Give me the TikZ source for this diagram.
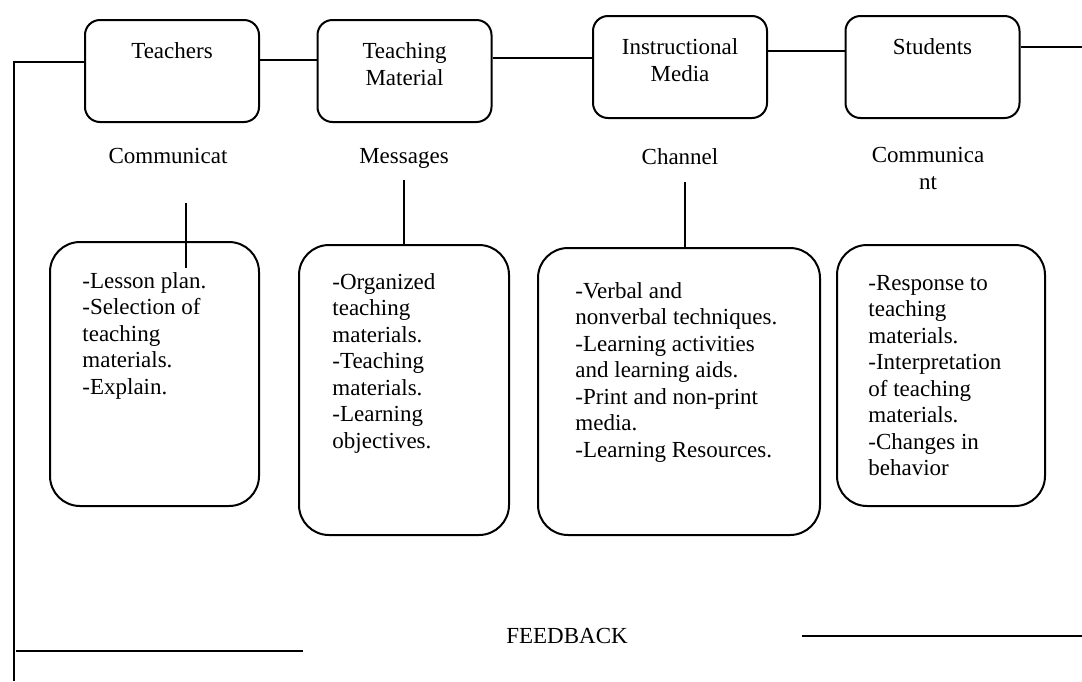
\documentclass[tikz,border=0pt]{standalone}
\usepackage{fontspec}
\setmainfont{Liberation Serif}
\usetikzlibrary{positioning}
\tikzset{role/.style={shape=rectangle, draw, rounded corners=7.5pt, line width=1pt,
    minimum width=87pt, minimum height=51pt}}
\tikzset{duty/.style={shape=rectangle, draw, rounded corners=15pt, line width=1pt}}
\tikzset{txt/.style={font=\fontsize{11.5}{13.5}\selectfont, inner sep=0pt, align=center, anchor=north}}
\tikzset{items/.style={font=\fontsize{11.5}{13.25}\selectfont, inner sep=0pt, align=left, anchor=north west}}
\tikzset{link/.style={line width=1pt}}

\begin{document}
\begin{tikzpicture}[x=0.5pt, y=-0.5pt]
  \useasboundingbox (0,0) rectangle (1082,681);

    %%%% Top row
    \node[role](teach) at (172,71)   {};
    \node[role](tmat)  at (404.5,71) {};
    \node[role](imed)  at (680,67)   {};
    \node[role](stud)  at (932.5,67) {};

    \node[txt](teachT) at (172,42)   {Teachers};
    \node[txt](tmatT)  at (404.5,42) {Teaching\\Material};
    \node[txt](imedT)  at (680,38)   {Instructional\\Media};
    \node[txt](studT)  at (932.5,38) {Students};

    %%%% Roles
    \node[txt](sender)  at (168,148) {Communicat};
    \node[txt](message) at (404,148) {Messages};
    \node[txt](channel) at (680,148) {Channel};
    \node[txt](receiver) at (928,147) {Communica\\nt};

    %%%% Lists
    \node[duty, minimum width=104.5pt, minimum height=132pt](lst1) at (154.5,374) {};
    \node[duty, minimum width=105pt, minimum height=145pt](lst2) at (404,390) {};
    \node[duty, minimum width=141pt, minimum height=143.5pt](lst3) at (679,391.5) {};
    \node[duty, minimum width=104pt, minimum height=130.5pt](lst4) at (941,375.5) {};

    \node[items](lst1T) at (82,272)  {-Lesson plan.\\-Selection of\\teaching\\materials.\\-Explain.};
    \node[items](lst2T) at (332,273) {-Organized\\teaching\\materials.\\-Teaching\\materials.\\-Learning\\objectives.};
    \node[items](lst3T) at (575,282) {-Verbal and\\nonverbal techniques.\\-Learning activities\\and learning aids.\\-Print and non-print\\media.\\-Learning Resources.};
    \node[items](lst4T) at (868,275) {-Response to\\teaching\\materials.\\-Interpretation\\of teaching\\materials.\\-Changes in\\behavior};

    %%%% Feedback
    \node[txt, anchor=center](fb) at (567,636) {FEEDBACK};

    \coordinate (fbBot) at (14,681);
    \coordinate (fbTop) at (14,62);
    \coordinate (fbL1) at (16,651);
    \coordinate (fbL2) at (303,651);
    \coordinate (fbR1) at (802,636);
    \coordinate (fbR2) at (1082,636);
    \coordinate (outR) at (1082,47);
    \coordinate (v1a) at (186,203);
    \coordinate (v1b) at (186,268);
    \coordinate (v2a) at (404,180);
    \coordinate (v3a) at (685,182);

    %%%% Links along the top
    \draw[link] (fbBot) -- (fbTop) -- (fbTop -| teach.west);
    \draw[link] (teach.east |- 0,60) -- (tmat.west |- 0,60);
    \draw[link] (tmat.east |- 0,58) -- (imed.west |- 0,58);
    \draw[link] (imed.east |- 0,51) -- (stud.west |- 0,51);
    \draw[link] (stud.east |- outR) -- (outR);

    %%%% Links down to the lists
    \draw[link] (v1a) -- (v1b);
    \draw[link] (v2a) -- (v2a |- lst2.north);
    \draw[link] (v3a) -- (v3a |- lst3.north);

    %%%% Feedback lines
    \draw[link] (fbL1) -- (fbL2);
    \draw[link] (fbR1) -- (fbR2);

\end{tikzpicture}
\end{document}
